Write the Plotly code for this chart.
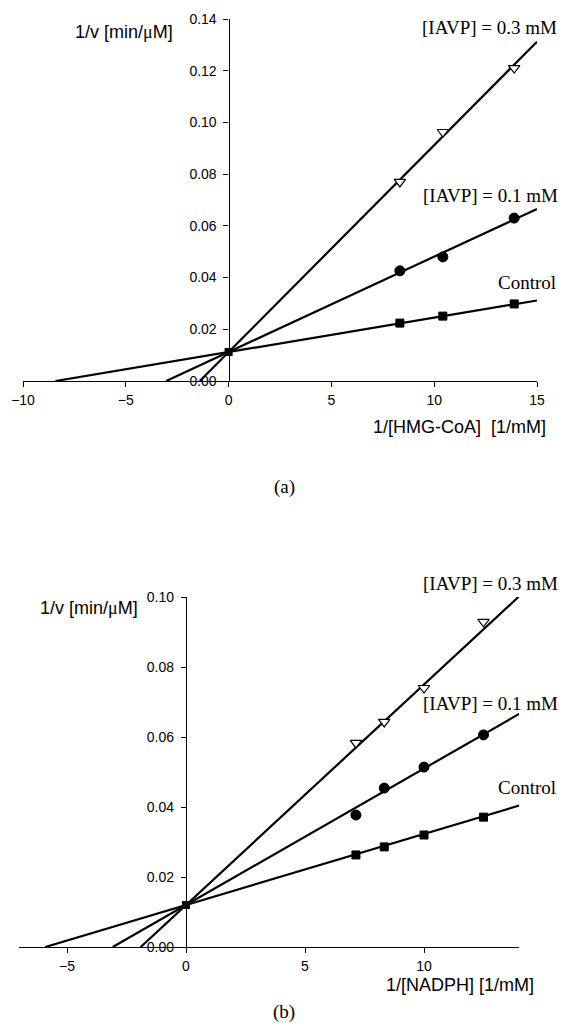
import numpy as np
import plotly.graph_objects as go

W, H = 567, 1032
OFF = 8                      # default page body margin in the browser
FW, FH = W - 2 * OFF, H - 2 * OFF

# ---------------- data: panel (a) ----------------
a_x = [8.33, 10.42, 13.89]
a_control = [0.0224, 0.0251, 0.0298]
a_iavp01 = [0.0426, 0.0480, 0.0630]
a_iavp03 = [0.0770, 0.0963, 0.1210]
a_slopes = [0.00133, 0.00369, 0.0080]      # control, 0.1 mM, 0.3 mM
a_intercepts = [0.0112, 0.0112, 0.0112]
a_xmax = 15
a_xrange = [-10, 15]
a_yrange = [0, 0.14]
a_xticks = [-10, -5, 0, 5, 10, 15]
a_yticks = [0.00, 0.02, 0.04, 0.06, 0.08, 0.10, 0.12, 0.14]

# ---------------- data: panel (b) ----------------
b_x = [7.14, 8.33, 10.0, 12.5]
b_control = [0.0263, 0.0286, 0.0320, 0.0371]
b_iavp01 = [0.0377, 0.0454, 0.0514, 0.0606]
b_iavp03 = [0.0583, 0.0643, 0.0740, 0.0929]
b_slopes = [0.00203, 0.0039, 0.0063]
b_intercepts = [0.0120, 0.0120, 0.0120]
b_xmax = 14
b_xrange = [-7, 14]
b_yrange = [0, 0.10]
b_xticks = [-5, 0, 5, 10]
b_yticks = [0.00, 0.02, 0.04, 0.06, 0.08, 0.10]

series_labels = ["Control", "[IAVP] = 0.1 mM", "[IAVP] = 0.3 mM"]


def px(x):
    return (x - OFF) / FW


def py(y):
    return 1 - (y - OFF) / FH


SANS = "Liberation Sans, Arial, sans-serif"
SERIF = "Liberation Serif, Times New Roman, serif"

fig = go.Figure()

marker_styles = [
    dict(symbol="square", size=8, color="black", line=dict(color="black", width=1)),
    dict(symbol="circle", size=10, color="black", line=dict(color="black", width=1)),
    dict(symbol="triangle-down-open", size=10, color="black", line=dict(color="black", width=1.2)),
]


def add_panel(xs, ys_list, slopes, intercepts, xmax, xa, ya):
    for i, (ys, m, b) in enumerate(zip(ys_list, slopes, intercepts)):
        x0 = -b / m
        lx = [x0, xmax]
        ly = [m * v + b for v in lx]
        fig.add_trace(go.Scatter(x=lx, y=ly, mode="lines",
                                 line=dict(color="black", width=2.2),
                                 xaxis=xa, yaxis=ya, showlegend=False,
                                 hoverinfo="skip"))
    for i, ys in enumerate(ys_list):
        ms = dict(marker_styles[i])
        if i == 2:
            fig.add_trace(go.Scatter(x=xs, y=ys, mode="markers",
                                     marker=dict(symbol="triangle-down", size=10, color="white"),
                                     xaxis=xa, yaxis=ya, showlegend=False))
        fig.add_trace(go.Scatter(x=xs, y=ys, mode="markers", marker=ms,
                                 xaxis=xa, yaxis=ya, showlegend=False,
                                 name=series_labels[i]))
    # common intercept blob
    fig.add_trace(go.Scatter(x=[0], y=[intercepts[0]], mode="markers",
                             marker=dict(symbol="square", size=8, color="black"),
                             xaxis=xa, yaxis=ya, showlegend=False))


add_panel(a_x, [a_control, a_iavp01, a_iavp03], a_slopes, a_intercepts, a_xmax, "x", "y")
add_panel(b_x, [b_control, b_iavp01, b_iavp03], b_slopes, b_intercepts, b_xmax, "x2", "y2")

# axis geometry (pixels in the screenshot)
a_left, a_right, a_bottom, a_top = 23, 537, 381, 19
b_left, b_right, b_bottom, b_top = 19.4, 519.2, 947, 597

common_x = dict(showgrid=False, zeroline=False, showline=True, linecolor="black",
                linewidth=1.3, ticks="outside", ticklen=5, tickwidth=1.3,
                tickcolor="black", tickfont=dict(family=SANS, size=14, color="black"),
                ticklabelstandoff=1, fixedrange=True, automargin=False)
common_y = dict(showgrid=False, zeroline=False, showline=True, linecolor="black",
                linewidth=1.3, ticks="outside", ticklen=5, tickwidth=1.3,
                tickcolor="black", tickfont=dict(family=SANS, size=14, color="black"),
                tickformat=".2f", ticklabelstandoff=4, fixedrange=True, automargin=False)

a_ypos = px(a_left + (0 - a_xrange[0]) / (a_xrange[1] - a_xrange[0]) * (a_right - a_left))
b_ypos = px(b_left + (0 - b_xrange[0]) / (b_xrange[1] - b_xrange[0]) * (b_right - b_left))

fig.update_layout(
    width=FW, height=FH,
    margin=dict(l=0, r=0, t=0, b=0, pad=0, autoexpand=False),
    paper_bgcolor="white", plot_bgcolor="white",
    xaxis=dict(common_x, domain=[px(a_left), px(a_right)], range=a_xrange,
               tickvals=a_xticks, anchor="y"),
    yaxis=dict(common_y, domain=[py(a_bottom), py(a_top)], range=a_yrange,
               tickvals=a_yticks, anchor="free", position=a_ypos),
    xaxis2=dict(common_x, domain=[px(b_left), px(b_right)], range=b_xrange,
                tickvals=b_xticks, anchor="y2"),
    yaxis2=dict(common_y, domain=[py(b_bottom), py(b_top)], range=b_yrange,
                tickvals=b_yticks, anchor="free", position=b_ypos),
)

ytitle = '1/v [min/<span style="font-family:Liberation Serif">μ</span>M]'

annotations = [
    # panel (a)
    dict(x=px(175), y=py(32), text=ytitle, xanchor="right", font=dict(family=SANS, size=18)),
    dict(x=px(548), y=py(427), text="1/[HMG-CoA]  [1/mM]", xanchor="right", font=dict(family=SANS, size=18)),
    dict(x=px(284), y=py(487), text="(a)", xanchor="center", font=dict(family=SERIF, size=19)),
    dict(x=px(559), y=py(28), text=series_labels[2], xanchor="right", font=dict(family=SERIF, size=19)),
    dict(x=px(560), y=py(195), text=series_labels[1], xanchor="right", font=dict(family=SERIF, size=19)),
    dict(x=px(558), y=py(283), text=series_labels[0], xanchor="right", font=dict(family=SERIF, size=19)),
    # panel (b)
    dict(x=px(140), y=py(608), text=ytitle, xanchor="right", font=dict(family=SANS, size=18)),
    dict(x=px(536), y=py(985), text="1/[NADPH] [1/mM]", xanchor="right", font=dict(family=SANS, size=18)),
    dict(x=px(284), y=py(1012), text="(b)", xanchor="center", font=dict(family=SERIF, size=19)),
    dict(x=px(560), y=py(583), text=series_labels[2], xanchor="right", font=dict(family=SERIF, size=19)),
    dict(x=px(560), y=py(703), text=series_labels[1], xanchor="right", font=dict(family=SERIF, size=19)),
    dict(x=px(558), y=py(787), text=series_labels[0], xanchor="right", font=dict(family=SERIF, size=19)),
]
for a in annotations:
    a.update(xref="paper", yref="paper", showarrow=False, yanchor="middle")
    a["font"]["color"] = "black"
fig.update_layout(annotations=annotations)

fig.write_html("out.html")
